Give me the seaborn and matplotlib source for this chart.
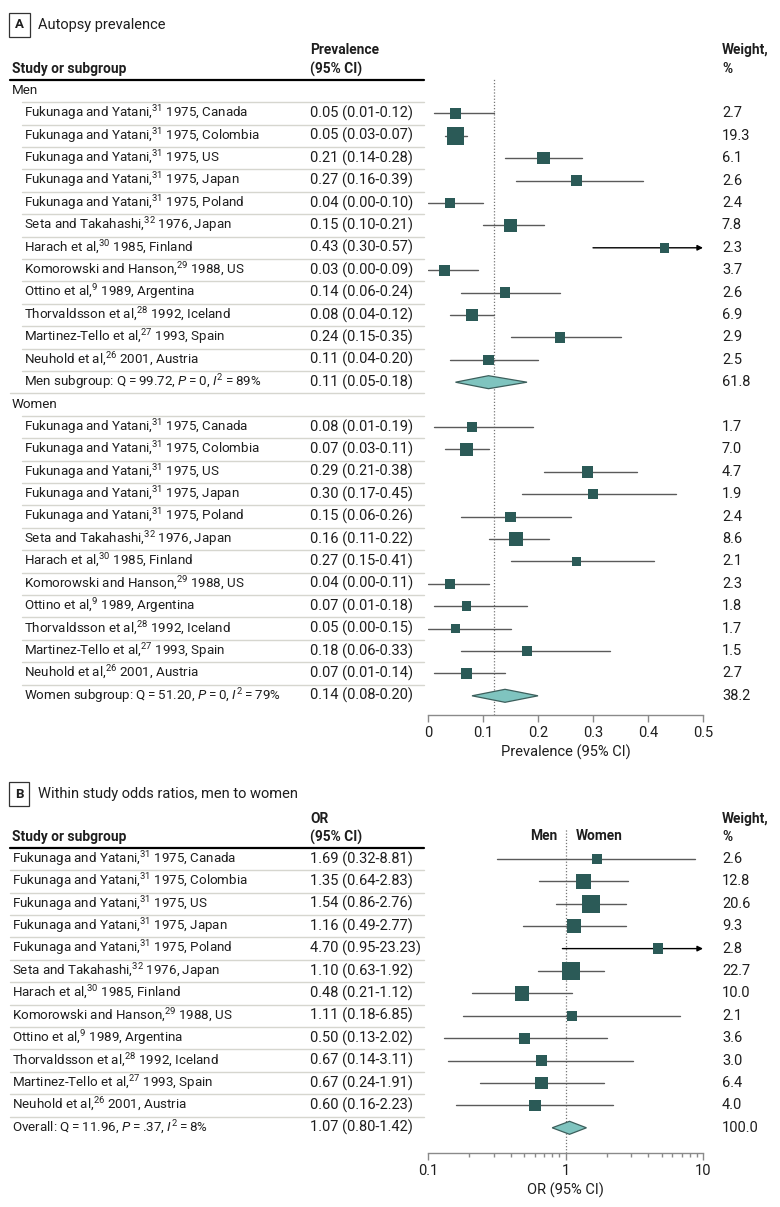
import numpy as np
import pandas as pd
import seaborn as sns
import matplotlib.pyplot as plt
from matplotlib.transforms import blended_transform_factory

# study info (same order in both panels)
authors = ['Fukunaga and Yatani'] * 5 + ['Seta and Takahashi', 'Harach et al', 'Komorowski and Hanson',
                                         'Ottino et al', 'Thorvaldsson et al', 'Martinez-Tello et al', 'Neuhold et al']
refs = [31, 31, 31, 31, 31, 32, 30, 29, 9, 28, 27, 26]
years = [1975] * 5 + [1976, 1985, 1988, 1989, 1992, 1993, 2001]
countries = ['Canada', 'Colombia', 'US', 'Japan', 'Poland', 'Japan', 'Finland', 'US',
             'Argentina', 'Iceland', 'Spain', 'Austria']

# panel A: prevalence
men_est = [0.05, 0.05, 0.21, 0.27, 0.04, 0.15, 0.43, 0.03, 0.14, 0.08, 0.24, 0.11]
men_lo = [0.01, 0.03, 0.14, 0.16, 0.00, 0.10, 0.30, 0.00, 0.06, 0.04, 0.15, 0.04]
men_hi = [0.12, 0.07, 0.28, 0.39, 0.10, 0.21, 0.57, 0.09, 0.24, 0.12, 0.35, 0.20]
men_w = [2.7, 19.3, 6.1, 2.6, 2.4, 7.8, 2.3, 3.7, 2.6, 6.9, 2.9, 2.5]
men_sub = (0.11, 0.05, 0.18, 61.8)
men_stats = ('99.72', '0', '89')

women_est = [0.08, 0.07, 0.29, 0.30, 0.15, 0.16, 0.27, 0.04, 0.07, 0.05, 0.18, 0.07]
women_lo = [0.01, 0.03, 0.21, 0.17, 0.06, 0.11, 0.15, 0.00, 0.01, 0.00, 0.06, 0.01]
women_hi = [0.19, 0.11, 0.38, 0.45, 0.26, 0.22, 0.41, 0.11, 0.18, 0.15, 0.33, 0.14]
women_w = [1.7, 7.0, 4.7, 1.9, 2.4, 8.6, 2.1, 2.3, 1.8, 1.7, 1.5, 2.7]
women_sub = (0.14, 0.08, 0.20, 38.2)
women_stats = ('51.20', '0', '79')
pooled_prev = 0.12

# panel B: odds ratios men to women
or_est = [1.69, 1.35, 1.54, 1.16, 4.70, 1.10, 0.48, 1.11, 0.50, 0.67, 0.67, 0.60]
or_lo = [0.32, 0.64, 0.86, 0.49, 0.95, 0.63, 0.21, 0.18, 0.13, 0.14, 0.24, 0.16]
or_hi = [8.81, 2.83, 2.76, 2.77, 23.23, 1.92, 1.12, 6.85, 2.02, 3.11, 1.91, 2.23]
or_w = [2.6, 12.8, 20.6, 9.3, 2.8, 22.7, 10.0, 2.1, 3.6, 3.0, 6.4, 4.0]
or_all = (1.07, 0.80, 1.42, 100.0)
or_stats = ('11.96', '.37', '8')

labels = [f'{a},$^{{{r}}}$ {y}, {c}' for a, r, y, c in zip(authors, refs, years, countries)]

sns.set_theme(style='white')
plt.rcParams['font.family'] = ['Roboto', 'DejaVu Sans']
plt.rcParams['mathtext.fontset'] = 'custom'
plt.rcParams['mathtext.rm'] = 'Roboto'
plt.rcParams['mathtext.it'] = 'Roboto:italic'
plt.rcParams['mathtext.bf'] = 'Roboto:bold'

DARK = '#2b5a57'
DIAM = '#7fc4bf'
CIC = '#5a5a5a'
SEP = '#d6d6cf'
TXT = '#1e1e1e'
FS = 9.6
NFS = 10.5

W, H = 780, 1207
fig = plt.figure(figsize=(W / 100, H / 100), dpi=100)


def px_axes(l, t, r, b):
    return fig.add_axes([l / W, 1 - b / H, (r - l) / W, (b - t) / H])


def sq_size(w):
    side = (6 + 2.6 * np.sqrt(np.array(w))) * 0.72
    return side ** 2


def fmt_ci(e, lo, hi):
    return f'{e:.2f} ({lo:.2f}-{hi:.2f})'


def stat_label(name, s):
    return f'{name}: Q\u2009=\u2009{s[0]}, $P$\u2009=\u2009{s[1]}, $I^{{2}}$\u2009=\u2009{s[2]}%'


def panel_title(y, letter, title):
    fig.text(15 / W, 1 - y / H, letter, fontsize=9.5, fontweight='bold', color=TXT, va='center', ha='left',
             bbox=dict(boxstyle='square,pad=0.45', fc='white', ec='#333333', lw=0.9))
    fig.text(38 / W, 1 - y / H, title, fontsize=10.5, color=TXT, va='center', ha='left')


def draw_rows(ax, rows, est, lo, hi, w, xmax):
    hi_c = [min(h, xmax) for h in hi]
    for r, l, h, hh in zip(rows, lo, hi_c, hi):
        if hh > xmax:
            ax.annotate('', xy=(xmax, r), xytext=(l, r),
                        arrowprops=dict(arrowstyle='-|>', color='black', lw=1, mutation_scale=8,
                                        shrinkA=0, shrinkB=0), zorder=2)
        else:
            ax.plot([l, h], [r, r], color=CIC, lw=1, zorder=2)
    sns.scatterplot(x=est, y=rows, s=sq_size(w), marker='s', color=DARK, linewidth=0, ax=ax, zorder=3,
                    legend=False)


def diamond(ax, r, e, lo, hi, hh=0.29):
    ax.fill([lo, e, hi, e], [r, r - hh, r, r + hh], facecolor=DIAM, edgecolor='#3c5f5c', lw=0.9, zorder=3)


def style_axis(ax):
    sns.despine(ax=ax, left=True, top=True, right=True)
    ax.set_yticks([])
    ax.spines['bottom'].set_color('#8a8a8a')
    ax.spines['bottom'].set_linewidth(1)
    ax.tick_params(axis='x', which='major', length=5, width=1, color='#8a8a8a', labelsize=NFS,
                   labelcolor=TXT, pad=3, bottom=True)
    ax.tick_params(axis='x', which='minor', length=3, width=1, color='#8a8a8a', bottom=True)
    ax.set_facecolor('none')


def row_text(ax, tr, r, lab, val, wt, x0):
    ax.text(x0 / W, r, lab, transform=tr, fontsize=FS, color=TXT, va='center')
    ax.text(310 / W, r, val, transform=tr, fontsize=NFS, color=TXT, va='center')
    ax.text(722 / W, r, wt, transform=tr, fontsize=NFS, color=TXT, va='center')


def header(ax, tr, ytop, ybot, col2):
    kw = dict(transform=tr, fontsize=FS + 0.3, fontweight='bold', color=TXT, va='center')
    ax.text(12 / W, ybot, 'Study or subgroup', **kw)
    ax.text(310 / W, ytop, col2, **kw)
    ax.text(310 / W, ybot, '(95% CI)', **kw)
    ax.text(722 / W, ytop, 'Weight,', **kw)
    ax.text(722 / W, ybot, '%', **kw)
    ax.plot([10 / W, 424 / W], [-0.5, -0.5], transform=tr, color='black', lw=1.6, clip_on=False)


# ---------------- panel A ----------------
panel_title(25, 'A', 'Autopsy prevalence')
axA = px_axes(428, 78, 703, 715)
axA.set_xlim(0, 0.5)
axA.set_ylim(27.857, -0.58)
trA = blended_transform_factory(fig.transFigure, axA.transData)
header(axA, trA, -1.83, -0.98, 'Prevalence')

men_rows = list(range(1, 13))
women_rows = list(range(15, 27))

for head, r0, rows, est, lo, hi, w, sub, st in [
        ('Men', 0, men_rows, men_est, men_lo, men_hi, men_w, men_sub, men_stats),
        ('Women', 14, women_rows, women_est, women_lo, women_hi, women_w, women_sub, women_stats)]:
    axA.text(12 / W, r0, head, transform=trA, fontsize=FS, color=TXT, va='center')
    for r, lab, e, l, h, ww in zip(rows, labels, est, lo, hi, w):
        row_text(axA, trA, r, lab, fmt_ci(e, l, h), f'{ww:.1f}', 24)
    rs = r0 + 13
    row_text(axA, trA, rs, stat_label(f'{head} subgroup', st), fmt_ci(*sub[:3]), f'{sub[3]:.1f}', 24)
    draw_rows(axA, rows, est, lo, hi, w, 0.5)
    diamond(axA, rs, *sub[:3])
    for r in range(r0, rs + 1):
        if r == 27:
            continue
        x0 = 10 if r == 13 else 22
        axA.plot([x0 / W, 424 / W], [r + 0.5, r + 0.5], transform=trA, color=SEP, lw=1, clip_on=False)

axA.axvline(pooled_prev, color='#777777', ls=(0, (1, 1.5)), lw=0.9, zorder=1)
style_axis(axA)
axA.set_xticks([0, 0.1, 0.2, 0.3, 0.4, 0.5])
axA.set_xticklabels(['0', '0.1', '0.2', '0.3', '0.4', '0.5'])
axA.set_xlabel('Prevalence (95% CI)', fontsize=NFS, color=TXT, labelpad=3)

# ---------------- panel B ----------------
panel_title(794, 'B', 'Within study odds ratios, men to women')
axB = px_axes(428, 828, 703, 1153)
axB.set_xscale('log')
axB.set_xlim(0.1, 10)
axB.set_ylim(13.125, -1.384)
trB = blended_transform_factory(fig.transFigure, axB.transData)
header(axB, trB, -1.79, -0.98, 'OR')
axB.text(557 / W, -1.02, 'Men', transform=trB, fontsize=FS + 0.3, fontweight='bold', color=TXT, va='center', ha='right')
axB.text(576 / W, -1.02, 'Women', transform=trB, fontsize=FS + 0.3, fontweight='bold', color=TXT, va='center', ha='left')

rowsB = list(range(12))
for r, lab, e, l, h, ww in zip(rowsB, labels, or_est, or_lo, or_hi, or_w):
    row_text(axB, trB, r, lab, fmt_ci(e, l, h), f'{ww:.1f}', 12)
    axB.plot([10 / W, 424 / W], [r + 0.5, r + 0.5], transform=trB, color=SEP, lw=1, clip_on=False)
row_text(axB, trB, 12, stat_label('Overall', or_stats), fmt_ci(*or_all[:3]), f'{or_all[3]:.1f}', 12)

draw_rows(axB, rowsB, or_est, or_lo, or_hi, or_w, 10)
diamond(axB, 12, *or_all[:3])
axB.axvline(1, color='#777777', ls=(0, (1, 1.5)), lw=0.9, zorder=1)
style_axis(axB)
axB.set_xticks([0.1, 1, 10])
axB.set_xticklabels(['0.1', '1', '10'])
axB.set_xticks([0.2, 0.3, 0.4, 0.5, 0.6, 0.7, 0.8, 0.9, 2, 3, 4, 5, 6, 7, 8, 9], minor=True)
axB.set_xticklabels([], minor=True)
axB.set_xlabel('OR (95% CI)', fontsize=NFS, color=TXT, labelpad=3)

fig.savefig('out.png', dpi=100, facecolor='white')
